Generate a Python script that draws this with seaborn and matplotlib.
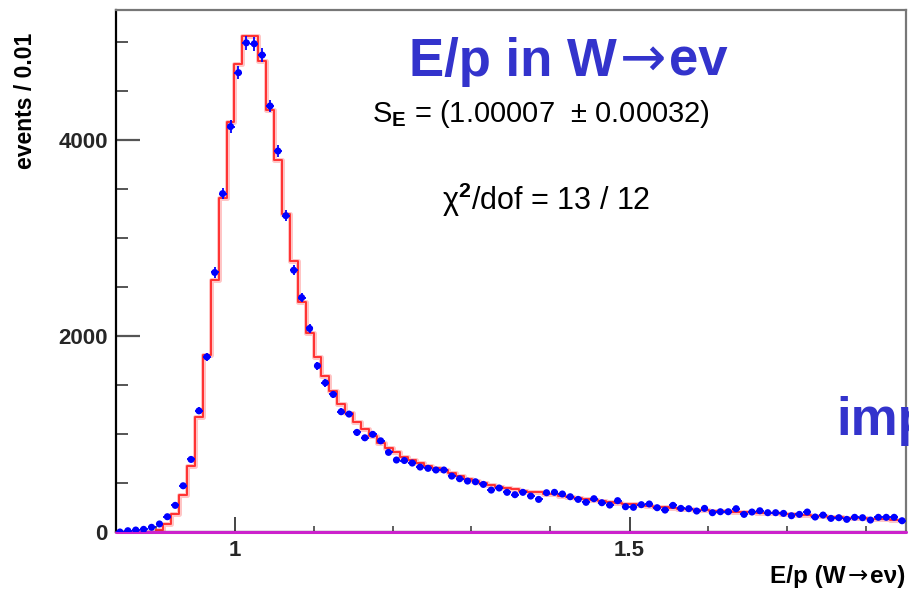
import numpy as np
import pandas as pd
import matplotlib
matplotlib.use("Agg")
import matplotlib.pyplot as plt
import seaborn as sns

# ---------------- data ----------------
bin_low = 0.85
bin_high = 1.85
n_bins = 100

data_counts = [
    0, 13, 20, 27, 48, 82, 156, 272, 472, 741,
    1237, 1788, 2650, 3455, 4140, 4690, 4995, 4985, 4870, 4350,
    3890, 3230, 2673, 2393, 2078, 1697, 1524, 1405, 1228, 1204,
    1017, 962, 997, 931, 813, 735, 730, 704, 663, 650,
    633, 633, 571, 544, 520, 513, 486, 428, 449, 405,
    381, 405, 367, 333, 401, 405, 388, 360, 333, 303,
    340, 299, 275, 320, 258, 252, 279, 286, 248, 224,
    272, 241, 238, 214, 241, 197, 207, 207, 238, 180,
    204, 217, 197, 197, 190, 166, 180, 204, 153, 173,
    139, 146, 129, 150, 146, 122, 150, 150, 150, 115,
]

fit_template = [
    0, 0, 0, 0, 5, 20, 82, 184, 377, 677,
    1170, 1806, 2578, 3411, 4187, 4775, 5064, 5061, 4806, 4313,
    3796, 3252, 2763, 2350, 2034, 1789, 1595, 1439, 1306, 1211,
    1125, 1048, 980, 911, 854, 813, 768, 735, 700, 675,
    655, 635, 600, 570, 540, 520, 498, 480, 462, 448,
    435, 423, 412, 405, 393, 384, 372, 360, 348, 337,
    327, 316, 307, 299, 290, 282, 274, 266, 259, 252,
    245, 238, 233, 228, 223, 218, 215, 211, 207, 203,
    200, 197, 193, 189, 185, 180, 175, 170, 164, 160,
    156, 152, 147, 143, 140, 137, 134, 131, 127, 122,
]

background = [0] * n_bins

x_ticks = [1.0, 1.5]
x_tick_labels = ["1", "1.5"]
y_ticks = [0, 2000, 4000]
y_tick_labels = ["0", "2000", "4000"]

title_parts = ["E/p in W", "\u2192", "ev"]
scale_text = "S$_{\\mathbf{E}}$ = (1.00007  \u00b1 0.00032)"
chi2_text = "\u03c7$^{\\mathbf{2}}$/dof = 13 / 12"
side_text = "imp"
x_label_parts = ["E/p (W", "\u2192", "e\u03bd)"]
y_label = "events / 0.01"

# ---------------- build ----------------
bin_width = (bin_high - bin_low) / n_bins
centers = bin_low + bin_width * (np.arange(n_bins) + 0.5)
df = pd.DataFrame({"x": centers, "data": data_counts,
                   "fit": fit_template, "bkg": background})

sns.set_theme(style="ticks")
plt.rcParams["font.family"] = ["Liberation Sans", "DejaVu Sans"]
plt.rcParams["mathtext.fontset"] = "custom"
plt.rcParams["mathtext.rm"] = "Liberation Sans"
plt.rcParams["mathtext.bf"] = "Liberation Sans:bold"
plt.rcParams["mathtext.it"] = "Liberation Sans:italic"

W, H = 909, 590
fig = plt.figure(figsize=(W / 100, H / 100), dpi=100)
ax = fig.add_axes([116 / W, 1 - 532 / H, (906 - 116) / W, (532 - 10) / H])

blue = "#0000ff"
red = "#ff3030"
hist_kw = dict(x="x", bins=n_bins, binrange=(bin_low, bin_high),
               element="step", fill=False, ax=ax)

# fit template: glow + line
sns.histplot(data=df, weights="fit", color="#ff8080", alpha=0.45,
             linewidth=3.6, **hist_kw)
sns.histplot(data=df, weights="fit", color=red, linewidth=1.4, **hist_kw)
# background component (magenta), drawn on top of the bottom frame
sns.histplot(data=df, weights="bkg", color="#cc22cc", linewidth=2.2,
             zorder=3.5, clip_on=False, **hist_kw)

# data points with error bars
ax.errorbar(df["x"], df["data"], yerr=np.sqrt(df["data"]), xerr=bin_width / 2,
            fmt="none", ecolor=blue, elinewidth=1.3, capsize=0, zorder=4)
sns.scatterplot(data=df, x="x", y="data", color=blue, s=26, edgecolor="none",
                zorder=5, ax=ax)

ax.set_xlim(bin_low, bin_high)
ax.set_ylim(0, 5330)
ax.set_xlabel("")
ax.set_ylabel("")

ax.set_xticks(x_ticks)
ax.set_xticklabels(x_tick_labels, fontsize=16, fontweight="bold")
ax.set_xticks(np.arange(0.9, 1.85, 0.1), minor=True)
ax.set_yticks(y_ticks)
ax.set_yticklabels(y_tick_labels, fontsize=16, fontweight="bold")
ax.set_yticks(np.arange(500, 5330, 500), minor=True)

ax.tick_params(axis="x", which="major", direction="in", length=11, width=1.4,
               color="#444444", pad=6)
ax.tick_params(axis="x", which="minor", direction="in", length=4, width=1.2,
               color="#444444")
ax.tick_params(axis="y", which="major", direction="in", length=17, width=1.6,
               color="#555555", pad=6)
ax.tick_params(axis="y", which="minor", direction="in", length=8.5, width=1.4,
               color="#555555")

for side in ["left", "bottom"]:
    ax.spines[side].set_color("black")
    ax.spines[side].set_linewidth(1.6)
for side in ["top", "right"]:
    ax.spines[side].set_visible(True)
    ax.spines[side].set_color("#777777")
    ax.spines[side].set_linewidth(1.6)

# ---------------- texts ----------------
def px(x, y):
    return x / W, 1 - y / H

renderer = fig.canvas.get_renderer()


def seq_text(x0, y0, parts, styles, gaps):
    """Draw text pieces one after another along a baseline (pixels)."""
    x = x0
    for part, style, gap in zip(parts, styles, gaps):
        t = fig.text(*px(x + gap, y0), part, ha="left", va="baseline", **style)
        bb = t.get_window_extent(renderer=renderer)
        x = bb.x1


title_style = dict(color="#3333cc", fontsize=38, fontweight="bold")
arrow_style = dict(color="#3333cc", fontsize=40, fontweight="normal",
                   family=["DejaVu Sans"])
seq_text(409, 76, title_parts, [title_style, arrow_style, title_style],
         [0, 3, 3])

fig.text(*px(372, 122), scale_text, color="black", fontsize=21,
         ha="left", va="baseline")
fig.text(*px(442, 210), chi2_text, color="black", fontsize=22,
         ha="left", va="baseline")
fig.text(*px(836, 435), side_text, color="#3333cc", fontsize=38,
         fontweight="bold", ha="left", va="baseline")

xl_style = dict(color="black", fontsize=17.5, fontweight="bold")
xl_arrow = dict(color="black", fontsize=17.5, fontweight="normal",
                family=["DejaVu Sans"])
seq_text(770, 583, x_label_parts, [xl_style, xl_arrow, xl_style], [0, 2, 2])

fig.text(*px(32, 33), y_label, color="black", fontsize=16.5,
         fontweight="bold", ha="right", va="baseline", rotation=90,
         rotation_mode="anchor")

fig.savefig("out.png", dpi=100)
